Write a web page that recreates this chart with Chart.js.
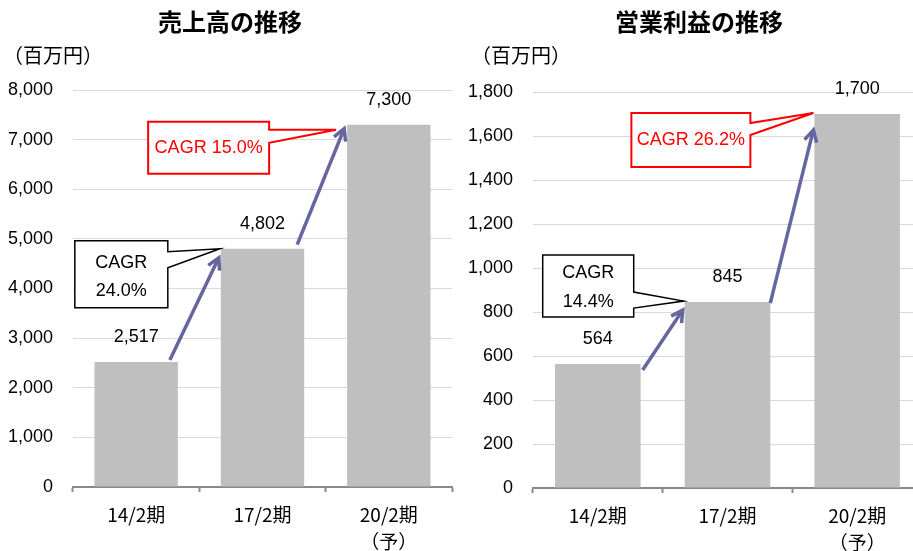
<!DOCTYPE html>
<html>
<head>
<meta charset="utf-8">
<script src="https://cdn.jsdelivr.net/npm/chart.js@4.4.1/dist/chart.umd.min.js"></script>
<style>
    html, body { margin: 0; padding: 0; background: #fff; overflow: hidden; width: 913px; height: 551px; }
    canvas { position: absolute; top: 0; }
    #salesChart { left: 0; }
    #profitChart { left: 460px; }
</style>
</head>
<body>
<canvas id="salesChart" width="460" height="551"></canvas>
<canvas id="profitChart" width="478" height="551"></canvas>
<script>
// Data
const periods = [['14/2期'], ['17/2期'], ['20/2期', '（予）']];
const salesValues = [2517, 4802, 7300];
const profitValues = [564, 845, 1700];
const salesCagr = ['24.0%', '15.0%'];
const profitCagr = ['14.4%', '26.2%'];
const salesAxis = [0, 8000, 1000];
const profitAxis = [0, 1800, 200];

const JP = "'Noto Sans CJK JP', 'Liberation Sans', sans-serif";
const NUM = "'Liberation Sans', Arial, sans-serif";
const ARROW_COLOR = '#65659f';

// draws headings, value labels, growth arrows and CAGR callouts
const growthPlugin = {
    id: 'growth',
    afterDatasetsDraw(chart, args, opts) {
        const ctx = chart.ctx;
        const bars = chart.getDatasetMeta(0).data;
        const values = chart.data.datasets[0].data;
        const edge = (i) => ({
            left: bars[i].x - bars[i].width / 2,
            right: bars[i].x + bars[i].width / 2,
            top: bars[i].y
        });
        ctx.save();

        // headings
        ctx.fillStyle = '#000';
        ctx.textBaseline = 'middle';
        ctx.textAlign = 'center';
        ctx.font = 'bold 24px ' + JP;
        ctx.fillText(opts.title, chart.width / 2, 22);
        ctx.textAlign = 'left';
        ctx.font = '20px ' + JP;
        ctx.fillText('（百万円）', opts.unitX, 55);

        // value labels
        ctx.textAlign = 'center';
        ctx.font = '18px ' + NUM;
        values.forEach((v, i) => {
            ctx.fillText(v.toLocaleString('en-US'), bars[i].x, bars[i].y - 25);
        });

        // arrows
        ctx.strokeStyle = ARROW_COLOR;
        ctx.lineWidth = 3.5;
        ctx.lineCap = 'butt';
        ctx.lineJoin = 'miter';
        opts.arrows.forEach((a, i) => {
            const s = edge(i), e = edge(i + 1);
            const x1 = s.right + a.start[0], y1 = s.top + a.start[1];
            const x2 = e.left + a.end[0], y2 = e.top + a.end[1];
            const ang = Math.atan2(y2 - y1, x2 - x1);
            ctx.beginPath();
            ctx.moveTo(x1, y1);
            ctx.lineTo(x2 - 2 * Math.cos(ang), y2 - 2 * Math.sin(ang));
            ctx.stroke();
            const len = 13, spread = 0.5;
            ctx.beginPath();
            ctx.moveTo(x2 - len * Math.cos(ang - spread), y2 - len * Math.sin(ang - spread));
            ctx.lineTo(x2, y2);
            ctx.lineTo(x2 - len * Math.cos(ang + spread), y2 - len * Math.sin(ang + spread));
            ctx.stroke();
        });

        // callouts
        opts.callouts.forEach((c) => {
            const b = edge(c.bar);
            const tx = b.left + c.tip[0], ty = b.top + c.tip[1];
            const l = tx + c.box[0], r = tx + c.box[1], t = ty + c.box[2], btm = ty + c.box[3];
            ctx.beginPath();
            ctx.moveTo(l, t);
            ctx.lineTo(r, t);
            ctx.lineTo(r, ty + c.notch[0]);
            ctx.lineTo(tx, ty);
            ctx.lineTo(r, ty + c.notch[1]);
            ctx.lineTo(r, btm);
            ctx.lineTo(l, btm);
            ctx.closePath();
            ctx.fillStyle = '#fff';
            ctx.fill();
            ctx.strokeStyle = c.color;
            ctx.lineWidth = c.color === '#000' ? 1.5 : 2;
            ctx.stroke();
            ctx.fillStyle = c.color;
            ctx.font = '18px ' + NUM;
            ctx.textAlign = 'center';
            c.lines.forEach((txt, k) => {
                ctx.fillText(txt, (l + r) / 2, t + c.lineY[k]);
            });
        });
        ctx.restore();
    }
};

function makeChart(id, values, axis, padRight, plotBottom, plotTop, growth) {
    const canvas = document.getElementById(id);
    return new Chart(canvas.getContext('2d'), {
        type: 'bar',
        data: {
            labels: periods,
            datasets: [{
                data: values,
                backgroundColor: '#bfbfbf',
                borderWidth: 0,
                categoryPercentage: 1,
                barPercentage: 0.66
            }]
        },
        options: {
            responsive: false,
            animation: false,
            layout: { padding: { left: 0, right: padRight, top: plotTop, bottom: 0 } },
            plugins: {
                legend: { display: false },
                tooltip: { enabled: false },
                growth: growth
            },
            scales: {
                x: {
                    afterFit: (s) => { s.height = canvas.height - plotBottom; },
                    grid: {
                        drawOnChartArea: false,
                        drawTicks: true,
                        tickLength: 5,
                        tickColor: '#898989',
                        tickWidth: 2,
                        offset: true
                    },
                    border: { color: '#898989', width: 2 },
                    ticks: {
                        color: '#000',
                        padding: 9,
                        font: { family: JP, size: 19, lineHeight: 1.42 }
                    }
                },
                y: {
                    min: axis[0],
                    max: axis[1],
                    afterFit: (s) => { s.width = 73; },
                    grid: { color: '#d9d9d9', lineWidth: 1, drawTicks: false },
                    border: { display: false },
                    ticks: {
                        stepSize: axis[2],
                        color: '#000',
                        padding: 20,
                        font: { family: NUM, size: 18 },
                        callback: (v) => v.toLocaleString('en-US')
                    }
                }
            }
        },
        plugins: [growthPlugin]
    });
}

makeChart('salesChart', salesValues, salesAxis, 8, 487, 90, {
    title: '売上高の推移',
    unitX: 3,
    arrows: [
        { start: [-8, -2], end: [-2, 9] },
        { start: [-7, -4], end: [-3, 4] }
    ],
    callouts: [
        { bar: 1, tip: [-1, 0], box: [-145, -52, -8, 59], notch: [3, 19], color: '#000',
          lines: ['CAGR', salesCagr[0]], lineY: [22, 50] },
        { bar: 2, tip: [-11, 5], box: [-188, -67, -8, 44], notch: [0, 13], color: '#ff0000',
          lines: ['CAGR ' + salesCagr[1]], lineY: [26] }
    ]
});

makeChart('profitChart', profitValues, profitAxis, 16, 488, 92, {
    title: '営業利益の推移',
    unitX: 11,
    arrows: [
        { start: [2, 6], end: [-2, 8] },
        { start: [0, 1], end: [-1, 16] }
    ],
    callouts: [
        { bar: 1, tip: [-1, -1], box: [-141, -50, -46, 16], notch: [-9, 7], color: '#000',
          lines: ['CAGR', profitCagr[0]], lineY: [18, 47] },
        { bar: 2, tip: [-1, -1], box: [-182, -63, 0, 54], notch: [10, 22], color: '#ff0000',
          lines: ['CAGR ' + profitCagr[1]], lineY: [27] }
    ]
});
</script>
</body>
</html>
